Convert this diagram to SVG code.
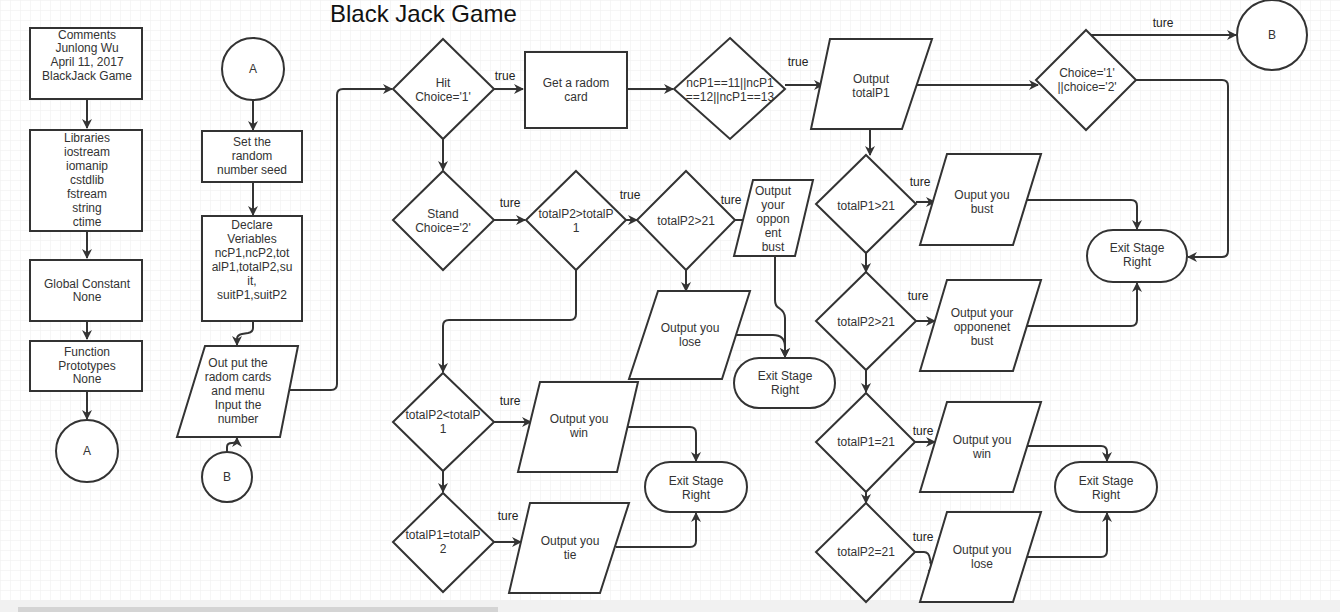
<svg xmlns="http://www.w3.org/2000/svg" width="1340" height="612" viewBox="0 0 1340 612">
<style>
.s{fill:#fff;stroke:#333;stroke-width:2}
.c{fill:none;stroke:#333;stroke-width:2}
text{font-family:"Liberation Sans",Arial,sans-serif;font-size:12px;fill:#333;text-anchor:middle}
.lb{fill:#222}
.title{font-size:24px;fill:#111;text-anchor:start}
</style>
<defs>
<pattern id="g" width="10" height="10" patternUnits="userSpaceOnUse">
<path d="M10,0 L0,0 0,10" fill="none" stroke="#eeeeee" stroke-width="1"/>
</pattern>
<marker id="a" markerWidth="10" markerHeight="10" refX="9" refY="5" orient="auto" markerUnits="userSpaceOnUse">
<path d="M0,0 L10,5 L0,10 L3,5 z" fill="#333"/>
</marker>
</defs>
<rect width="1340" height="612" fill="#fff"/>
<rect width="1340" height="600" fill="url(#g)"/>
<rect x="0" y="600" width="1340" height="12" fill="#f1f1f1"/>
<rect x="18" y="607" width="480" height="5" fill="#d4d4d4"/>
<text class="title" x="330" y="22">Black Jack Game</text>

<g id="connectors">
<path class="c" d="M87,99 L87,128" marker-end="url(#a)"/>
<path class="c" d="M87,231 L87,258" marker-end="url(#a)"/>
<path class="c" d="M87,321 L87,339" marker-end="url(#a)"/>
<path class="c" d="M87,391 L87,419" marker-end="url(#a)"/>
<path class="c" d="M253,100 L253,130" marker-end="url(#a)"/>
<path class="c" d="M253,182 L253,215" marker-end="url(#a)"/>
<path class="c" d="M253,321 L253,328 Q253,332 248,333 L242,334 Q237,335 237,339 L237,345" marker-end="url(#a)"/>
<path class="c" d="M227,452 L227,447 Q227,443 232,443 Q237,443 237,438" marker-end="url(#a)"/>
<path class="c" d="M285,390 L331,390 Q337,390 337,384 L337,95 Q337,89 343,89 L392,89" marker-end="url(#a)"/>
<path class="c" d="M494,89 L523,89" marker-end="url(#a)"/>
<path class="c" d="M627,89 L673,89" marker-end="url(#a)"/>
<path class="c" d="M443,138 L443,170" marker-end="url(#a)"/>
<path class="c" d="M494,220 L525,220" marker-end="url(#a)"/>
<path class="c" d="M626,220 L637,220" marker-end="url(#a)"/>
<path class="c" d="M735,220 L752,220" marker-end="url(#a)"/>
<path class="c" d="M686,270 L686,291" marker-end="url(#a)"/>
<path class="c" d="M576,270 L576,314 Q576,320 570,320 L449,320 Q443,320 443,326 L443,372" marker-end="url(#a)"/>
<path class="c" d="M775,256 L775,300 Q775,306 779,308 Q785,312 785,318 L785,357" marker-end="url(#a)"/>
<path class="c" d="M736,335 L773,335 Q785,335 785,347 L785,357" marker-end="url(#a)"/>
<path class="c" d="M494,422 L531,422" marker-end="url(#a)"/>
<path class="c" d="M443,471 L443,492" marker-end="url(#a)"/>
<path class="c" d="M494,542 L521,542" marker-end="url(#a)"/>
<path class="c" d="M625,427 L690,427 Q696,427 696,433 L696,461" marker-end="url(#a)"/>
<path class="c" d="M616,547 L690,547 Q696,547 696,541 L696,513" marker-end="url(#a)"/>
<path class="c" d="M785,85 L823,85" marker-end="url(#a)"/>
<path class="c" d="M916,85 L1038,85" marker-end="url(#a)"/>
<path class="c" d="M870,129 L870,155" marker-end="url(#a)"/>
<path class="c" d="M1090,35 L1236,35" marker-end="url(#a)"/>
<path class="c" d="M1136,80 L1222,80 Q1228,80 1228,86 L1228,251 Q1228,257 1222,257 L1188,257" marker-end="url(#a)"/>
<path class="c" d="M916,202 L935,202" marker-end="url(#a)"/>
<path class="c" d="M866,253 L866,272" marker-end="url(#a)"/>
<path class="c" d="M916,321 L935,321" marker-end="url(#a)"/>
<path class="c" d="M866,370 L866,392" marker-end="url(#a)"/>
<path class="c" d="M915,442 L935,442" marker-end="url(#a)"/>
<path class="c" d="M866,492 L866,503" marker-end="url(#a)"/>
<path class="c" d="M915,552 L924,552 Q929,552 930,559 Q931,567 937,568" marker-end="url(#a)"/>
<path class="c" d="M1027,200 L1131,200 Q1137,200 1137,206 L1137,229" marker-end="url(#a)"/>
<path class="c" d="M1027,326 L1131,326 Q1137,326 1137,320 L1137,283" marker-end="url(#a)"/>
<path class="c" d="M1027,446 L1101,446 Q1107,446 1107,452 L1107,461" marker-end="url(#a)"/>
<path class="c" d="M1027,557 L1101,557 Q1107,557 1107,551 L1107,513" marker-end="url(#a)"/>
<text class="lb" x="505" y="80">true</text>
<text class="lb" x="510" y="207">ture</text>
<text class="lb" x="630" y="199">true</text>
<text class="lb" x="731" y="204">ture</text>
<text class="lb" x="510" y="405">ture</text>
<text class="lb" x="508" y="520">ture</text>
<text class="lb" x="798" y="66">true</text>
<text class="lb" x="1163" y="27">ture</text>
<text class="lb" x="920" y="186">ture</text>
<text class="lb" x="918" y="300">ture</text>
<text class="lb" x="923" y="435">ture</text>
<text class="lb" x="923" y="541">ture</text>
</g>

<g id="comments"><rect class="s" x="30" y="28" width="112" height="71"/>
<text x="87" y="39">Comments</text><text x="87" y="52">Junlong Wu</text><text x="87" y="66">April 11, 2017</text><text x="87" y="80">BlackJack Game</text></g>
<g id="libraries"><rect class="s" x="30" y="130" width="112" height="101"/>
<text x="87" y="142">Libraries</text><text x="87" y="156">iostream</text><text x="87" y="170">iomanip</text><text x="87" y="184">cstdlib</text><text x="87" y="198">fstream</text><text x="87" y="212">string</text><text x="87" y="226">ctime</text></g>
<g id="global"><rect class="s" x="30" y="260" width="112" height="61"/>
<text x="87" y="288">Global Constant</text><text x="87" y="301">None</text></g>
<g id="prototypes"><rect class="s" x="30" y="341" width="112" height="50"/>
<text x="87" y="356">Function</text><text x="87" y="370">Prototypes</text><text x="87" y="383">None</text></g>
<g id="connA1"><circle class="s" cx="87" cy="451" r="31"/><text x="87" y="455">A</text></g>

<g id="connA2"><circle class="s" cx="253" cy="69" r="31"/><text x="253" y="73">A</text></g>
<g id="seed"><rect class="s" x="202" y="131" width="100" height="51"/>
<text x="252" y="146">Set the</text><text x="252" y="160">random</text><text x="252" y="174">number seed</text></g>
<g id="declare"><rect class="s" x="202" y="216" width="100" height="105"/>
<text x="252" y="229">Declare</text><text x="252" y="243">Veriables</text><text x="252" y="257">ncP1,ncP2,tot</text><text x="252" y="271">alP1,totalP2,su</text><text x="252" y="285">it,</text><text x="252" y="299">suitP1,suitP2</text></g>
<g id="outmenu"><polygon class="s" points="205,346 298,346 280,437 177,437"/>
<text x="238" y="367">Out put the</text><text x="238" y="381">radom cards</text><text x="238" y="395">and menu</text><text x="238" y="409">Input the</text><text x="238" y="423">number</text></g>
<g id="connB1"><circle class="s" cx="227" cy="477" r="25"/><text x="227" y="481">B</text></g>

<g id="hit"><polygon class="s" points="443,39 494,89 443,139 393,89"/>
<text x="443" y="87">Hit</text><text x="443" y="101">Choice='1'</text></g>
<g id="getcard"><rect class="s" x="525" y="52" width="102" height="76"/>
<text x="576" y="87">Get a radom</text><text x="576" y="101">card</text></g>
<g id="stand"><polygon class="s" points="443,171 494,220 443,270 393,220"/>
<text x="443" y="218">Stand</text><text x="443" y="232">Choice='2'</text></g>
<g id="p2gtp1"><polygon class="s" points="576,171 626,220 576,270 526,220"/>
<text x="576" y="218">totalP2&gt;totalP</text><text x="576" y="232">1</text></g>
<g id="p2gt21a"><polygon class="s" points="686,171 735,220 686,270 637,220"/>
<text x="686" y="225">totalP2&gt;21</text></g>
<g id="oppbust1"><polygon class="s" points="753,180 813,180 795,256 734,256"/>
<text x="773" y="195">Output</text><text x="773" y="209">your</text><text x="773" y="223">oppon</text><text x="773" y="237">ent</text><text x="773" y="251">bust</text></g>
<g id="lose1"><polygon class="s" points="658,291 750,291 722,379 629,379"/>
<text x="690" y="332">Output you</text><text x="690" y="346">lose</text></g>
<g id="exit1"><rect class="s" x="734" y="358" width="101" height="50" rx="25"/>
<text x="785" y="380">Exit Stage</text><text x="785" y="394">Right</text></g>
<g id="p2ltp1"><polygon class="s" points="443,373 494,422 443,471 393,422"/>
<text x="443" y="419">totalP2&lt;totalP</text><text x="443" y="433">1</text></g>
<g id="win1"><polygon class="s" points="540,382 638,382 617,472 518,472"/>
<text x="579" y="423">Output you</text><text x="579" y="437">win</text></g>
<g id="p1eqp2"><polygon class="s" points="443,493 494,542 443,592 393,542"/>
<text x="443" y="539">totalP1=totalP</text><text x="443" y="553">2</text></g>
<g id="tie"><polygon class="s" points="530,503 629,503 600,593 509,593"/>
<text x="570" y="545">Output you</text><text x="570" y="559">tie</text></g>
<g id="exit2"><rect class="s" x="645" y="462" width="102" height="50" rx="25"/>
<text x="696" y="485">Exit Stage</text><text x="696" y="499">Right</text></g>

<g id="facecard"><polygon class="s" points="730,38 785,89 730,139 674,89"/>
<text x="730" y="87">ncP1==11||ncP1</text><text x="730" y="101">==12||ncP1==13</text></g>
<g id="outtotal"><polygon class="s" points="830,39 932,39 902,129 811,129"/>
<text x="871" y="83">Output</text><text x="871" y="97">totalP1</text></g>
<g id="choice"><polygon class="s" points="1086,30 1136,80 1086,130 1036,80"/>
<text x="1087" y="77">Choice='1'</text><text x="1087" y="91">||choice='2'</text></g>
<g id="connB2"><circle class="s" cx="1272" cy="35" r="35"/><text x="1272" y="39">B</text></g>
<g id="p1gt21"><polygon class="s" points="866,155 916,204 866,253 816,204"/>
<text x="866" y="210">totalP1&gt;21</text></g>
<g id="bust"><polygon class="s" points="947,154 1041,154 1013,245 920,245"/>
<text x="982" y="199">Ouput you</text><text x="982" y="213">bust</text></g>
<g id="exit3"><rect class="s" x="1087" y="230" width="100" height="52" rx="26"/>
<text x="1137" y="252">Exit Stage</text><text x="1137" y="266">Right</text></g>
<g id="p2gt21b"><polygon class="s" points="866,272 916,321 866,370 816,321"/>
<text x="866" y="326">totalP2&gt;21</text></g>
<g id="oppbust2"><polygon class="s" points="947,280 1041,280 1013,371 920,371"/>
<text x="982" y="317">Output your</text><text x="982" y="331">opponenet</text><text x="982" y="345">bust</text></g>
<g id="p1eq21"><polygon class="s" points="866,393 915,442 866,492 816,442"/>
<text x="866" y="446">totalP1=21</text></g>
<g id="win2"><polygon class="s" points="947,402 1041,402 1013,492 920,492"/>
<text x="982" y="444">Output you</text><text x="982" y="458">win</text></g>
<g id="p2eq21"><polygon class="s" points="866,503 915,552 866,602 816,552"/>
<text x="866" y="556">totalP2=21</text></g>
<g id="lose2"><polygon class="s" points="947,512 1041,512 1013,602 920,602"/>
<text x="982" y="554">Output you</text><text x="982" y="568">lose</text></g>
<g id="exit4"><rect class="s" x="1055" y="462" width="102" height="50" rx="25"/>
<text x="1106" y="485">Exit Stage</text><text x="1106" y="499">Right</text></g>
</svg>
